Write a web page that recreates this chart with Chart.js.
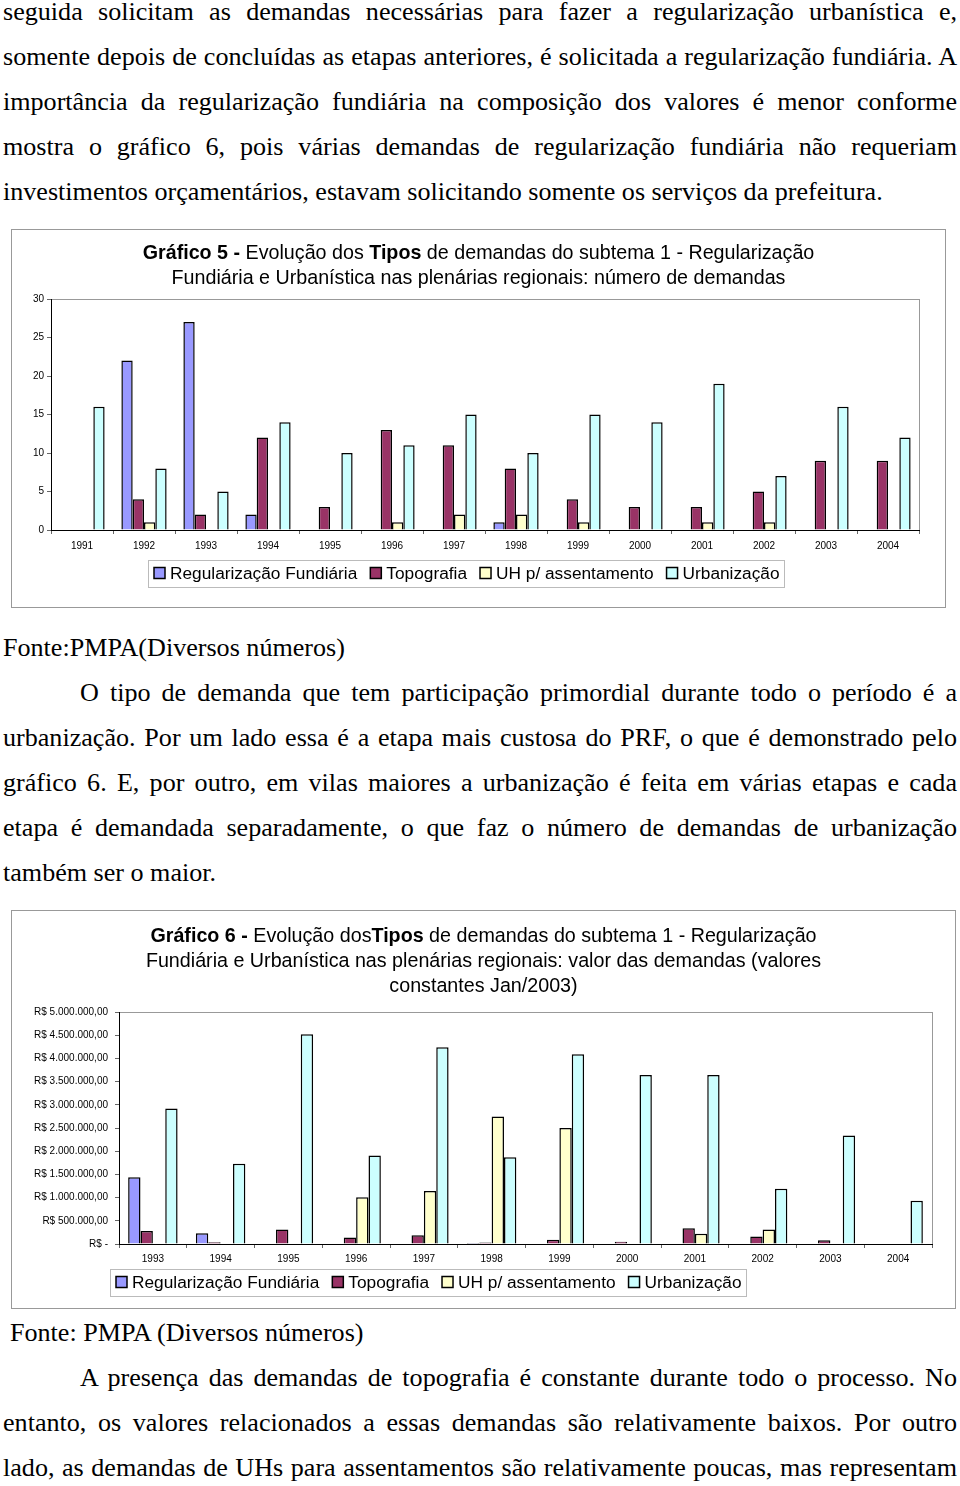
<!DOCTYPE html>
<html lang="pt-BR">
<head>
<meta charset="utf-8">
<script src="https://cdn.jsdelivr.net/npm/chart.js@4.4.1/dist/chart.umd.min.js"></script>
<style>
  body { margin: 0; width: 960px; height: 1486px; position: relative; overflow: hidden; background: #fff; }
  .txt { position: absolute; left: 3px; width: 954px; font-family: "Liberation Serif", "Times New Roman", serif; font-size: 26.1px; line-height: 45px; color: #000; }
  .txt div { text-align: justify; text-align-last: justify; }
  .txt div.end { text-align: left; text-align-last: left; }
  .txt div.ind { padding-left: 77px; }
  .box { position: absolute; border: 1px solid #999; background: #fff; }
  .box canvas { position: absolute; left: 0; top: 0; }
  .ttl { position: absolute; left: 0; right: 0; text-align: center; font-family: "Liberation Sans", Arial, sans-serif; font-size: 19.7px; line-height: 25px; color: #000; }
  #box5 { left: 11px; top: 229px; width: 933px; height: 377px; }
  #box6 { left: 11px; top: 910px; width: 943px; height: 397px; }
</style>
</head>
<body>

<div class="txt" style="top:-11px">
  <div>seguida solicitam as demandas necessárias para fazer a regularização urbanística e,</div>
  <div>somente depois de concluídas as etapas anteriores, é solicitada a regularização fundiária. A</div>
  <div>importância da regularização fundiária na composição dos valores é menor conforme</div>
  <div>mostra o gráfico 6, pois várias demandas de regularização fundiária não requeriam</div>
  <div class="end">investimentos orçamentários, estavam solicitando somente os serviços da prefeitura.</div>
</div>

<div id="box5" class="box">
  <canvas id="grafico5" width="933" height="377"></canvas>
  <div class="ttl" style="top:10px"><b>Gráfico 5 -</b> Evolução dos <b>Tipos</b> de demandas do subtema 1 - Regularização<br>Fundiária e Urbanística nas plenárias regionais: número de demandas</div>
</div>

<div class="txt" style="top:625px">
  <div class="end">Fonte:PMPA(Diversos números)</div>
  <div class="ind">O tipo de demanda que tem participação primordial durante todo o período é a</div>
  <div>urbanização. Por um lado essa é a etapa mais custosa do PRF, o que é demonstrado pelo</div>
  <div>gráfico 6. E, por outro, em vilas maiores a urbanização é feita em várias etapas e cada</div>
  <div>etapa é demandada separadamente, o que faz o número de demandas de urbanização</div>
  <div class="end">também ser o maior.</div>
</div>

<div id="box6" class="box">
  <canvas id="grafico6" width="943" height="397"></canvas>
  <div class="ttl" style="top:12px"><b>Gráfico 6 -</b> Evolução dos<b>Tipos</b> de demandas do subtema 1 - Regularização<br>Fundiária e Urbanística nas plenárias regionais: valor das demandas (valores<br>constantes Jan/2003)</div>
</div>

<div class="txt" style="top:1310px">
  <div class="end" style="padding-left:7px">Fonte: PMPA (Diversos números)</div>
  <div class="ind">A presença das demandas de topografia é constante durante todo o processo. No</div>
  <div>entanto, os valores relacionados a essas demandas são relativamente baixos. Por outro</div>
  <div>lado, as demandas de UHs para assentamentos são relativamente poucas, mas representam</div>
</div>

<script>
const series = ["Regularização Fundiária", "Topografia", "UH p/ assentamento", "Urbanização"];
const colors = ["#9999FF", "#993366", "#FFFFCC", "#CCFFFF"];

// Gráfico 5: número de demandas
const anos5 = ["1991", "1992", "1993", "1994", "1995", "1996", "1997", "1998", "1999", "2000", "2001", "2002", "2003", "2004"];
const regFund5 = [null, 22, 27, 2, null, null, null, 1, null, null, null, null, null, null];
const topo5 = [null, 4, 2, 12, 3, 13, 11, 8, 4, 3, 3, 5, 9, 9];
const uh5 = [null, 1, null, null, null, 1, 2, 2, 1, null, 1, 1, null, null];
const urb5 = [16, 8, 5, 14, 10, 11, 15, 10, 15, 14, 19, 7, 16, 12];

// Gráfico 6: valor das demandas (R$, Jan/2003)
const anos6 = ["1993", "1994", "1995", "1996", "1997", "1998", "1999", "2000", "2001", "2002", "2003", "2004"];
const regFund6 = [1440000, 230000, null, null, null, 20000, null, null, null, null, null, null];
const topo6 = [280000, 40000, 310000, 140000, 190000, 30000, 90000, 50000, 340000, 160000, 80000, null];
const uh6 = [null, null, null, 1010000, 1140000, 2750000, 2500000, null, 220000, 310000, null, null];
const urb6 = [2920000, 1730000, 4520000, 1910000, 4240000, 1870000, 4090000, 3640000, 3640000, 1190000, 2340000, 930000];

const fonte = "'Liberation Sans', Arial, sans-serif";

const brl = (v) => {
  if (v === 0) return "R$ -";
  return "R$ " + String(Math.round(v)).replace(/\B(?=(\d{3})+(?!\d))/g, ".") + ",00";
};

const plotFrame = {
  id: "plotFrame",
  beforeDraw(chart) {
    const a = chart.chartArea;
    const ctx = chart.ctx;
    ctx.save();
    ctx.strokeStyle = "#999";
    ctx.lineWidth = 1;
    ctx.strokeRect(a.left + 0.5, a.top + 0.5, a.right - a.left, a.bottom - a.top);
    ctx.restore();
  },
};

const boxLegend = {
  id: "boxLegend",
  afterDraw(chart, args, opts) {
    const ctx = chart.ctx;
    ctx.save();
    ctx.font = opts.size + "px " + fonte;
    ctx.textBaseline = "middle";
    const box = 11, gapText = 5, gapItem = 13, padX = 5;
    const items = chart.data.datasets.map((ds) => ({ text: ds.label, color: ds.backgroundColor, w: ctx.measureText(ds.label).width }));
    const total = items.reduce((s, it) => s + box + gapText + it.w, 0) + gapItem * (items.length - 1);
    let x = Math.round(opts.cx - total / 2);
    const y = opts.cy;
    ctx.strokeStyle = "#bbb";
    ctx.lineWidth = 1;
    ctx.strokeRect(x - padX - 0.5, Math.round(y - opts.h / 2) + 0.5, Math.round(total + 2 * padX), opts.h);
    items.forEach((it) => {
      ctx.fillStyle = it.color;
      ctx.fillRect(x, y - box / 2, box, box);
      ctx.strokeStyle = "#000";
      ctx.lineWidth = 1.5;
      ctx.strokeRect(x, y - box / 2, box, box);
      ctx.fillStyle = "#000";
      ctx.fillText(it.text, x + box + gapText, y + 1);
      x += box + gapText + it.w + gapItem;
    });
    ctx.restore();
  },
};

const montarGrafico = (id, labels, valores, cfg) => {
  const datasets = valores.map((v, i) => ({
    label: series[i],
    data: v,
    backgroundColor: colors[i],
    borderColor: "#000",
    borderWidth: 1.5,
    categoryPercentage: 0.73,
    barPercentage: 1,
  }));
  return new Chart(document.getElementById(id), {
    type: "bar",
    data: { labels: labels, datasets: datasets },
    plugins: [plotFrame, boxLegend],
    options: {
      responsive: false,
      animation: false,
      devicePixelRatio: 1,
      layout: { padding: cfg.padding },
      scales: {
        x: {
          grid: { drawOnChartArea: false, drawTicks: true, tickLength: 4, color: "#666", offset: true },
          border: { color: "#000", width: 1 },
          ticks: { color: "#000", font: { family: fonte, size: 10 }, padding: cfg.xPad, maxRotation: 0 },
          afterFit: (scale) => { scale.height = 30; },
        },
        y: {
          min: 0,
          max: cfg.max,
          grid: { drawOnChartArea: false, drawTicks: true, tickLength: 4, color: "#666" },
          border: { color: "#000", width: 1 },
          ticks: { stepSize: cfg.step, color: "#000", font: { family: fonte, size: 10 }, padding: cfg.yPad, callback: cfg.fmt },
          afterFit: (scale) => { scale.width = cfg.yWidth; },
        },
      },
      plugins: {
        legend: { display: false },
        tooltip: { enabled: false },
        boxLegend: cfg.legend,
      },
    },
  });
};

montarGrafico("grafico5", anos5, [regFund5, topo5, uh5, urb5], {
  padding: { left: 0, right: 26, top: 69, bottom: 47 },
  max: 30,
  step: 5,
  xPad: 6,
  yPad: 3,
  yWidth: 39,
  fmt: (v) => v,
  legend: { cx: 455, cy: 343, h: 27, size: 17.3 },
});

montarGrafico("grafico6", anos6, [regFund6, topo6, uh6, urb6], {
  padding: { left: 0, right: 23, top: 101, bottom: 34 },
  max: 5000000,
  step: 500000,
  xPad: 5,
  yPad: 7,
  yWidth: 107,
  fmt: brl,
  legend: { cx: 417, cy: 371, h: 27, size: 17.3 },
});
</script>
</body>
</html>
